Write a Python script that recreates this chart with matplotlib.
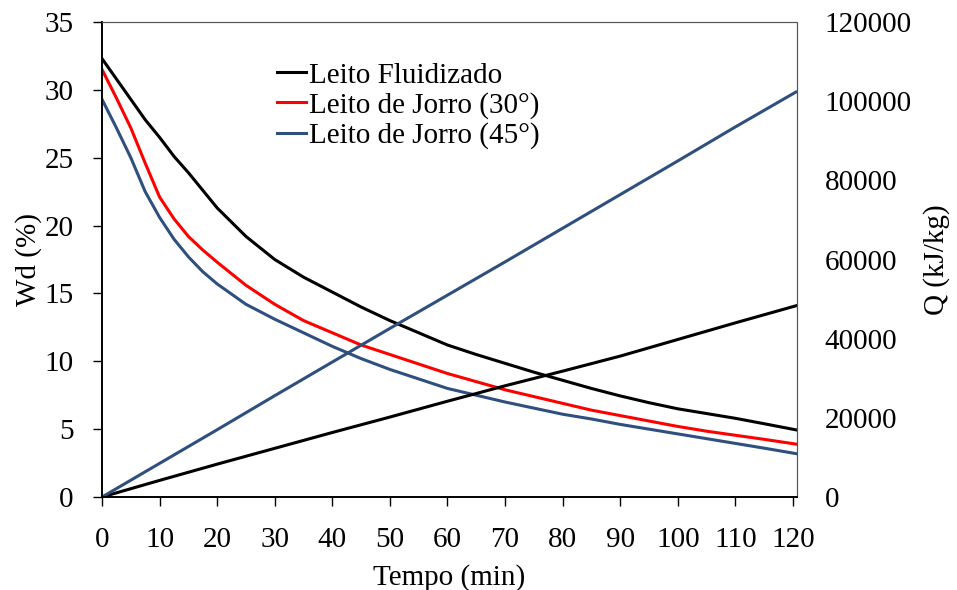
import numpy as np
import matplotlib
matplotlib.use("Agg")
from matplotlib import pyplot as plt

plt.rcParams['font.family'] = ['Liberation Serif', 'DejaVu Serif']

# tempo (min) for the moisture curves
t_wd = [0, 2.5, 5, 7.5, 10, 12.5, 15, 17.5, 20, 25, 30, 35, 40, 45, 50, 55, 60,
        65, 70, 75, 80, 85, 90, 95, 100, 105, 110, 115, 120.5]
# Wd (%)
wd_fluid = [32.3, 30.8, 29.3, 27.8, 26.5, 25.1, 23.9, 22.6, 21.3, 19.2, 17.5, 16.2, 15.1,
            14.0, 13.0, 12.1, 11.2, 10.5, 9.85, 9.2, 8.6, 8.0, 7.45, 6.95, 6.5, 6.15,
            5.8, 5.4, 4.95]
wd_jorro30 = [31.5, 29.4, 27.2, 24.6, 22.1, 20.5, 19.2, 18.2, 17.3, 15.6, 14.2, 13.0, 12.1,
              11.2, 10.5, 9.8, 9.1, 8.5, 7.9, 7.4, 6.9, 6.4, 6.0, 5.6, 5.2, 4.85,
              4.55, 4.25, 3.9]
wd_jorro45 = [29.3, 27.2, 25.0, 22.5, 20.6, 19.0, 17.7, 16.6, 15.7, 14.2, 13.1, 12.1, 11.1,
              10.2, 9.4, 8.7, 8.0, 7.5, 7.0, 6.55, 6.1, 5.75, 5.35, 5.0, 4.65, 4.3,
              3.95, 3.6, 3.2]

# energy Q (kJ/kg)
t_q = [0, 10, 20, 30, 40, 50, 60, 70, 80, 90, 100, 110, 120.5]
q_fluid = [0, 4200, 8300, 12300, 16300, 20200, 24200, 28100, 31800, 35600, 39800, 44000, 48300]
q_jorro45 = [0, 8500, 17000, 25600, 34100, 42600, 51000, 59400, 67900, 76400, 84900, 93500, 102300]

labels = ['Leito Fluidizado', 'Leito de Jorro (30°)', 'Leito de Jorro (45°)']
cores = ['black', '#ff0000', '#2f4f7f']

fig = plt.figure(figsize=(9.57, 5.90), dpi=100)
ax = fig.add_axes([0.1066, 0.1576, 0.7262, 0.8051])
ax2 = ax.twinx()

fs = 21
lw = 2.2
ax.plot(t_wd, wd_fluid, color=cores[0], lw=lw, label=labels[0])
ax.plot(t_wd, wd_jorro30, color=cores[1], lw=lw, label=labels[1])
ax.plot(t_wd, wd_jorro45, color=cores[2], lw=lw, label=labels[2])

ax2.plot(t_q, q_fluid, color=cores[0], lw=lw)
ax2.plot(t_q, q_jorro45, color=cores[2], lw=lw)

ax.set_xlim(0, 120.7)
ax.set_ylim(0, 35)
ax2.set_ylim(0, 120000)
ax.set_xticks(np.arange(0, 121, 10))
ax.set_yticks(np.arange(0, 36, 5))
ax2.set_yticks(np.arange(0, 120001, 20000))

ax.tick_params(axis='x', direction='out', length=6.5, width=1, pad=15, labelsize=fs)
ax.tick_params(axis='y', direction='out', length=6.5, width=1, pad=14, labelsize=fs)
ax2.tick_params(axis='y', length=0, pad=20, labelsize=fs)

for a in (ax, ax2):
    a.spines['top'].set_color('#555555')
    a.spines['top'].set_linewidth(0.8)
    a.spines['top'].set_linestyle((0, (1, 1)))
    a.spines['right'].set_color('#555555')
    a.spines['right'].set_linewidth(0.8)
    a.spines['right'].set_linestyle((0, (1, 1)))
    a.spines['left'].set_linewidth(1.2)
    a.spines['bottom'].set_linewidth(1.2)

ax.set_xlabel('Tempo (min)', fontsize=fs, labelpad=8)
ax.set_ylabel('Wd (%)', fontsize=fs, labelpad=2)
ax2.set_ylabel('Q (kJ/kg)', fontsize=fs, labelpad=8)

ax.legend(loc='upper left', bbox_to_anchor=(0.235, 0.94), frameon=False,
          fontsize=fs, handlelength=1.0, handletextpad=0.1,
          borderaxespad=0, labelspacing=0.12)

plt.savefig('out.png', dpi=100)
